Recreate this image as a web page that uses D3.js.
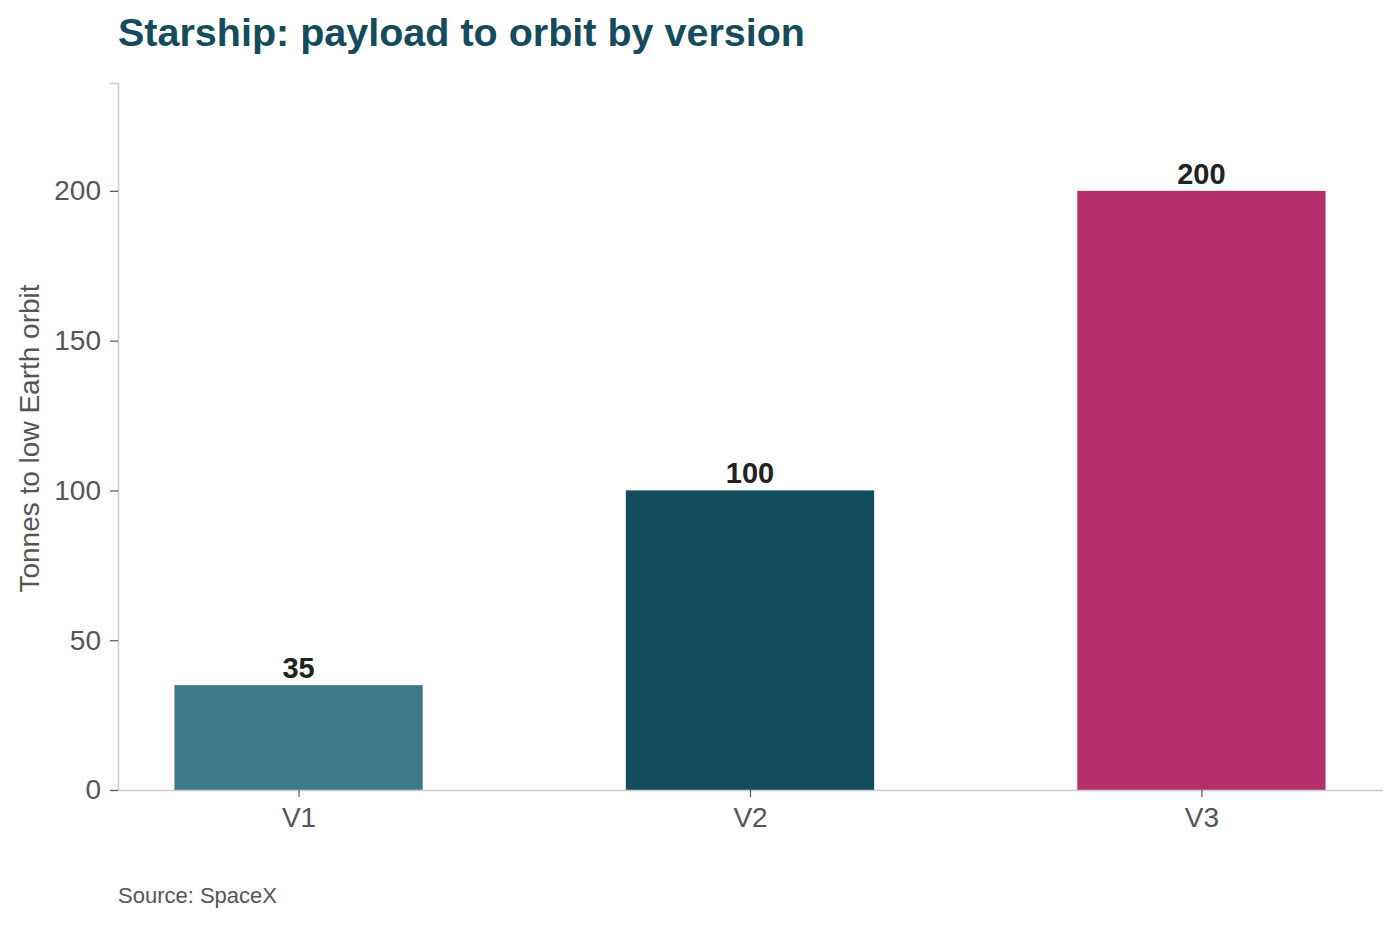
<!DOCTYPE html>
<html>
<head>
<meta charset="utf-8">
<script src="https://cdn.jsdelivr.net/npm/d3@7"></script>
<style>
    body { margin: 0; background: #fff; font-family: "Liberation Sans", Arial, sans-serif; }
    .tick text { fill: #555; }
</style>
</head>
<body>
<div id="chart"></div>
<script>
const versions = ['V1', 'V2', 'V3'];
const payloads = [35, 100, 200];
const barColors = ['#3e7889', '#144c5e', '#b5306b'];
const yTicks = [0, 50, 100, 150, 200];

const width = 1399, height = 925;
const margin = { top: 83, right: 17, bottom: 135, left: 118 };
const innerW = width - margin.left - margin.right;
const innerH = height - margin.top - margin.bottom;

const svg = d3.select('#chart').append('svg')
    .attr('width', width)
    .attr('height', height);

// Title
svg.append('text')
    .attr('x', margin.left)
    .attr('y', 46)
    .attr('fill', '#154b5c')
    .attr('font-size', 39.5)
    .attr('font-weight', 'bold')
    .text('Starship: payload to orbit by version');

const g = svg.append('g')
    .attr('transform', `translate(${margin.left},${margin.top})`);

const x = d3.scalePoint()
    .domain(versions)
    .range([0, innerW])
    .padding(0.4);

const y = d3.scaleLinear()
    .domain([0, 236])
    .range([innerH, 0]);

const barW = x.step() * 0.55;

// Bars
g.selectAll('.bar')
    .data(versions)
    .enter().append('rect')
    .attr('class', 'bar')
    .attr('x', d => x(d) - barW / 2)
    .attr('y', (d, i) => y(payloads[i]))
    .attr('width', barW)
    .attr('height', (d, i) => innerH - y(payloads[i]))
    .attr('fill', (d, i) => barColors[i]);

// Value labels
g.selectAll('.val')
    .data(versions)
    .enter().append('text')
    .attr('class', 'val')
    .attr('x', d => x(d))
    .attr('y', (d, i) => y(payloads[i]) - 7)
    .attr('text-anchor', 'middle')
    .attr('font-size', 29)
    .attr('font-weight', 'bold')
    .attr('fill', '#222')
    .text((d, i) => payloads[i]);

// Y axis
const yAxis = g.append('g')
    .call(d3.axisLeft(y).tickValues(yTicks).tickSize(8).tickPadding(9));
yAxis.select('.domain').attr('stroke', '#ccc').attr('stroke-width', 1.5);
yAxis.selectAll('.tick line').attr('stroke', '#555').attr('stroke-width', 1.2);
yAxis.selectAll('.tick text').attr('font-size', 28).attr('font-family', '"Liberation Sans", Arial, sans-serif');

// X axis
const xAxis = g.append('g')
    .attr('transform', `translate(0,${innerH})`)
    .call(d3.axisBottom(x).tickSize(7).tickPadding(10).tickSizeOuter(0));
xAxis.select('.domain').attr('stroke', '#ccc').attr('stroke-width', 1.5);
xAxis.selectAll('.tick line').attr('stroke', '#555').attr('stroke-width', 1.2);
xAxis.selectAll('.tick text').attr('font-size', 28).attr('font-family', '"Liberation Sans", Arial, sans-serif');

// Y axis title
svg.append('text')
    .attr('transform', `translate(39,${margin.top + innerH / 2 + 2}) rotate(-90)`)
    .attr('text-anchor', 'middle')
    .attr('font-size', 28)
    .attr('fill', '#555')
    .text('Tonnes to low Earth orbit');

// Source
svg.append('text')
    .attr('x', margin.left)
    .attr('y', 903)
    .attr('font-size', 22)
    .attr('fill', '#555')
    .text('Source: SpaceX');
</script>
</body>
</html>
